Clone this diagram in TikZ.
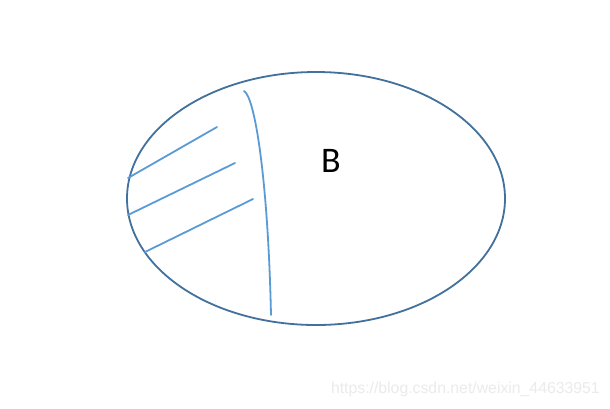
\documentclass[tikz,border=0pt]{standalone}
\usepackage{fontspec}
\newfontfamily\labelfont{Carlito}
\newfontfamily\markfont{Liberation Sans}
\definecolor{outline}{HTML}{41719C}
\definecolor{hatch}{HTML}{5B9BD5}
\definecolor{wm}{HTML}{EBEBEB}
\begin{document}
\begin{tikzpicture}[x=1pt,y=-1pt,
  ellipseline/.style={draw=outline,line width=1.8pt},
  hatchline/.style={draw=hatch,line width=1.8pt,line cap=round}]
\useasboundingbox[fill=white] (0,0) rectangle (610,408);
\draw[ellipseline] (316,198.5) ellipse [x radius=189, y radius=126.5];
\draw[hatchline] (244,91) .. controls (255,97) and (268,180) .. (271,315);
\draw[hatchline] (128,178) -- (217,127);
\draw[hatchline] (128,215) -- (235,163);
\draw[hatchline] (145,252) -- (253,199);
\node[font=\labelfont\fontsize{36}{40}\selectfont, inner sep=0pt] (b) at (331,161) {B};
\node[font=\markfont\fontsize{15.8}{18}\selectfont, text=wm, inner sep=0pt, anchor=east] (w) at (600,389) {https://blog.csdn.net/weixin\_44633951};
\end{tikzpicture}
\end{document}
